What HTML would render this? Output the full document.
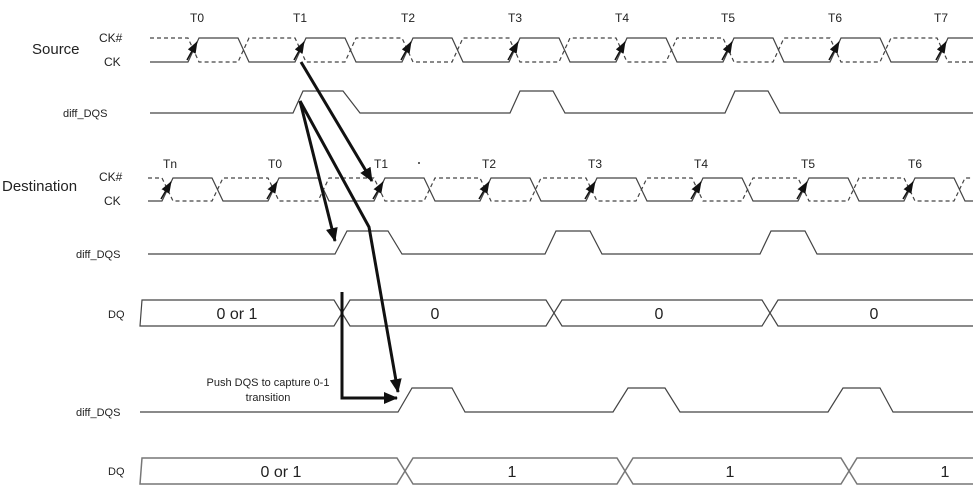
<!DOCTYPE html>
<html><head><meta charset="utf-8"><style>
html,body{margin:0;padding:0;background:#fff;}
svg{display:block;font-family:"Liberation Sans",Arial,sans-serif;}
</style></head><body>
<svg width="973" height="491" viewBox="0 0 973 491" xmlns="http://www.w3.org/2000/svg">
<defs>
<marker id="sa" markerWidth="12" markerHeight="9" refX="11" refY="4.5" orient="auto" markerUnits="userSpaceOnUse" viewBox="0 0 12 9"><path d="M0,0 L12,4.5 L0,9 z" fill="#111"/></marker>
<marker id="ba" markerWidth="14" markerHeight="12" refX="13" refY="6" orient="auto" markerUnits="userSpaceOnUse" viewBox="0 0 14 12"><path d="M0,0 L14,6 L0,12 z" fill="#111"/></marker>
</defs>
<g fill="#222" font-size="12" text-anchor="middle">
<text x="197" y="22">T0</text><text x="300" y="22">T1</text><text x="408" y="22">T2</text><text x="515" y="22">T3</text><text x="622" y="22">T4</text><text x="728" y="22">T5</text><text x="835" y="22">T6</text><text x="941" y="22">T7</text>
<text x="170" y="168">Tn</text><text x="275" y="168">T0</text><text x="381" y="168">T1</text><text x="489" y="168">T2</text><text x="595" y="168">T3</text><text x="701" y="168">T4</text><text x="808" y="168">T5</text><text x="915" y="168">T6</text>
</g>
<circle cx="419" cy="163" r="1" fill="#333"/>
<g fill="#222">
<text x="32" y="54" font-size="15">Source</text>
<text x="2" y="191" font-size="15">Destination</text>
<text x="99" y="42" font-size="12">CK#</text><text x="104" y="66" font-size="12">CK</text>
<text x="99" y="181" font-size="12">CK#</text><text x="104" y="205" font-size="12">CK</text>
<text x="63" y="117" font-size="11">diff_DQS</text>
<text x="76" y="258" font-size="11">diff_DQS</text>
<text x="76" y="416" font-size="11">diff_DQS</text>
<text x="108" y="318" font-size="11">DQ</text>
<text x="108" y="475" font-size="11">DQ</text>
</g>
<g fill="none" stroke="#444" stroke-width="1.2">
<path d="M150 62 L188 62 L199 38 L238 38 L249 62 L295 62 L306 38 L345 38 L356 62 L402 62 L413 38 L452 38 L463 62 L509 62 L520 38 L559 38 L570 62 L616 62 L627 38 L666 38 L677 62 L723 62 L734 38 L773 38 L784 62 L830 62 L841 38 L880 38 L891 62 L937 62 L948 38 L973 38"/>
<path stroke-dasharray="4,3" d="M150 38 L188 38 L199 62 L238 62 L249 38 L295 38 L306 62 L345 62 L356 38 L402 38 L413 62 L452 62 L463 38 L509 38 L520 62 L559 62 L570 38 L616 38 L627 62 L666 62 L677 38 L723 38 L734 62 L773 62 L784 38 L830 38 L841 62 L880 62 L891 38 L937 38 L948 62 L973 62"/>
<path d="M148 201 L162 201 L173 178 L212 178 L223 201 L268 201 L279 178 L318 178 L329 201 L374 201 L385 178 L424 178 L435 201 L480 201 L491 178 L530 178 L541 201 L586 201 L597 178 L636 178 L647 201 L692 201 L703 178 L742 178 L753 201 L798 201 L809 178 L848 178 L859 201 L904 201 L915 178 L954 178 L965 201 L973 201"/>
<path stroke-dasharray="4,3" d="M148 178 L162 178 L173 201 L212 201 L223 178 L268 178 L279 201 L318 201 L329 178 L374 178 L385 201 L424 201 L435 178 L480 178 L491 201 L530 201 L541 178 L586 178 L597 201 L636 201 L647 178 L692 178 L703 201 L742 201 L753 178 L798 178 L809 201 L848 201 L859 178 L904 178 L915 201 L954 201 L965 178 L973 178"/>
<path d="M150 113 L293 113 L303 91 L343 91 L360 113 L510 113 L520 91 L553 91 L565 113 L725 113 L735 91 L768 91 L780 113 L973 113"/>
<path d="M148 254 L335 254 L347 231 L388 231 L402 254 L545 254 L556 231 L590 231 L602 254 L760 254 L771 231 L805 231 L817 254 L973 254"/>
<path d="M140 412 L398 412 L412 388 L452 388 L465 412 L613 412 L628 388 L665 388 L680 412 L828 412 L843 388 L880 388 L893 412 L973 412"/>
<polygon points="142,300 334,300 342,313 334,326 140,326"/>
<polygon points="342,313 350,300 546,300 554,313 546,326 350,326"/>
<polygon points="554,313 562,300 762,300 770,313 762,326 562,326"/>
<polyline points="975,300 778,300 770,313 778,326 975,326"/>
</g>
<g fill="none" stroke="#777" stroke-width="1.5">
<polygon points="142,458 397,458 405,471 397,484 140,484"/>
<polygon points="405,471 413,458 617,458 625,471 617,484 413,484"/>
<polygon points="625,471 633,458 841,458 849,471 841,484 633,484"/>
<polyline points="975,458 857,458 849,471 857,484 975,484"/>
</g>
<g fill="#222" font-size="16" text-anchor="middle">
<text x="237" y="319">0 or 1</text><text x="435" y="319">0</text><text x="659" y="319">0</text><text x="874" y="319">0</text>
<text x="281" y="477">0 or 1</text><text x="512" y="477">1</text><text x="730" y="477">1</text><text x="945" y="477">1</text>
</g>
<g stroke="#111" stroke-width="1.5" marker-end="url(#sa)">
<line x1="187" y1="60" x2="197" y2="42"/><line x1="294" y1="60" x2="304" y2="42"/><line x1="401" y1="60" x2="411" y2="42"/><line x1="508" y1="60" x2="518" y2="42"/><line x1="615" y1="60" x2="625" y2="42"/><line x1="722" y1="60" x2="732" y2="42"/><line x1="829" y1="60" x2="839" y2="42"/><line x1="936" y1="60" x2="946" y2="42"/>
<line x1="161" y1="199" x2="171" y2="182"/><line x1="267" y1="199" x2="277" y2="182"/><line x1="373" y1="199" x2="383" y2="182"/><line x1="479" y1="199" x2="489" y2="182"/><line x1="585" y1="199" x2="595" y2="182"/><line x1="691" y1="199" x2="701" y2="182"/><line x1="797" y1="199" x2="807" y2="182"/><line x1="903" y1="199" x2="913" y2="182"/>
</g>
<g fill="none" stroke="#111" stroke-width="3" marker-end="url(#ba)">
<line x1="301" y1="62" x2="372" y2="181"/>
<line x1="300" y1="101" x2="335" y2="241"/>
<polyline points="300,101 369,227 398,392"/>
<polyline points="342,292 342,398 397,398"/>
</g>
<g fill="#222" font-size="11" text-anchor="middle">
<text x="268" y="386">Push DQS to capture 0-1</text>
<text x="268" y="401">transition</text>
</g>
</svg>
</body></html>
